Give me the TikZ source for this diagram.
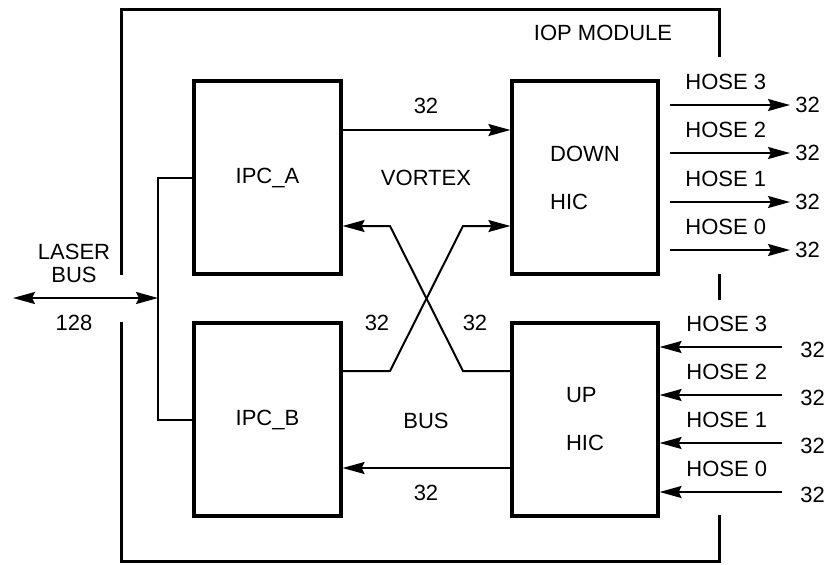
\documentclass[tikz,border=0pt]{standalone}
\usepackage{fontspec}
\setmainfont{Liberation Sans}
\usepackage{tikz}
\usetikzlibrary{
	arrows.meta,
	positioning
}
\tikzset{
	bloque/.style={
		draw,
		line width=1.6pt,
		minimum width=73.5pt,
		minimum height=96.5pt,
		align=left,
		inner sep=0pt,
		font=\fontsize{11}{24}\selectfont
	},
	etiqueta/.style={
		inner sep=0pt,
		align=center,
		font=\fontsize{11}{11.5}\selectfont
	},
	marco/.style={
		line width=1.5pt
	},
	linea/.style={
		line width=1pt
	},
	flecha/.style={
		-{Stealth[length=11pt,width=6pt,inset=1.5pt]},
		line width=1pt
	},
	flechaDoble/.style={
		{Stealth[length=11pt,width=6pt,inset=1.5pt]}-{Stealth[length=11pt,width=6pt,inset=1.5pt]},
		line width=1pt
	}
}

\begin{document}
\begin{tikzpicture}[x=0.5pt,y=-0.5pt]
		\useasboundingbox (0,0) rectangle (827,564);
		\draw[marco] (121,275) -- (121,9) -- (719,9) -- (719,57);
		\draw[marco] (719,274) -- (719,300);
		\draw[marco] (121,322) -- (121,561) -- (719,561) -- (719,515);
		\node[etiqueta] (modulo) at (603,33) {IOP MODULE};
		\node[bloque] (ipcA) at (267.5,177.5) {IPC\_A};
		\node[bloque] (ipcB) at (267.5,419.5) {IPC\_B};
		\node[bloque, minimum width=73pt] (downHic) at (585,177.5) {DOWN\\HIC};
		\node[bloque, minimum width=73pt] (upHic) at (585,419.5) {UP\\HIC};
		\coordinate (filaA) at (0,130);
		\coordinate (filaB) at (0,226);
		\coordinate (filaC) at (0,371);
		\coordinate (filaD) at (0,468);
		\coordinate (nodoBus) at (158,298);
		\coordinate (extremoLaser) at (13,298);
		\draw[linea] (ipcA.west) -| (nodoBus) |- (ipcB.west);
		\draw[flechaDoble] (extremoLaser) -- (nodoBus);
		\node[etiqueta] (laserBus) at (74,263.5) {LASER\\BUS};
		\node[etiqueta] (anchoLaser) at (74,323) {128};
		\draw[flecha] (ipcA.east |- filaA) -- (downHic.west |- filaA);
		\node[etiqueta] (anchoA) at (426,106) {32};
		\node[etiqueta] (vortex) at (426,178) {VORTEX};
		\draw[flecha] (upHic.west |- filaC) -- (463,371) -- (390,226) -- (ipcA.east |- filaB);
		\draw[flecha] (ipcB.east |- filaC) -- (390,371) -- (463,226) -- (downHic.west |- filaB);
		\node[etiqueta] (anchoCruceB) at (377,323) {32};
		\node[etiqueta] (anchoCruceA) at (475,323) {32};
		\node[etiqueta] (bus) at (426,421) {BUS};
		\draw[flecha] (upHic.west |- filaD) -- (ipcB.east |- filaD);
		\node[etiqueta] (anchoD) at (426,493) {32};
		\foreach \n/\y in {3/105,2/153,1/202,0/250}{
			\coordinate (filaSal\n) at (670,\y);
			\node[etiqueta, anchor=west] (anchoSal\n) at (795,\y) {32};
			\node[etiqueta, anchor=west] (hoseSal\n) at (685,\y-23) {HOSE \n};
			\draw[flecha] (filaSal\n) -- ([xshift=-2.5pt]anchoSal\n.west);
		}
		\foreach \n/\y in {3/347,2/395,1/443,0/492}{
			\coordinate (filaEnt\n) at (782,\y);
			\node[etiqueta, anchor=west] (anchoEnt\n) at (800,\y+3) {32};
			\node[etiqueta, anchor=west] (hoseEnt\n) at (686,\y-23) {HOSE \n};
			\draw[flecha] (filaEnt\n) -- (upHic.east |- filaEnt\n);
		}
	\end{tikzpicture}
\end{document}
